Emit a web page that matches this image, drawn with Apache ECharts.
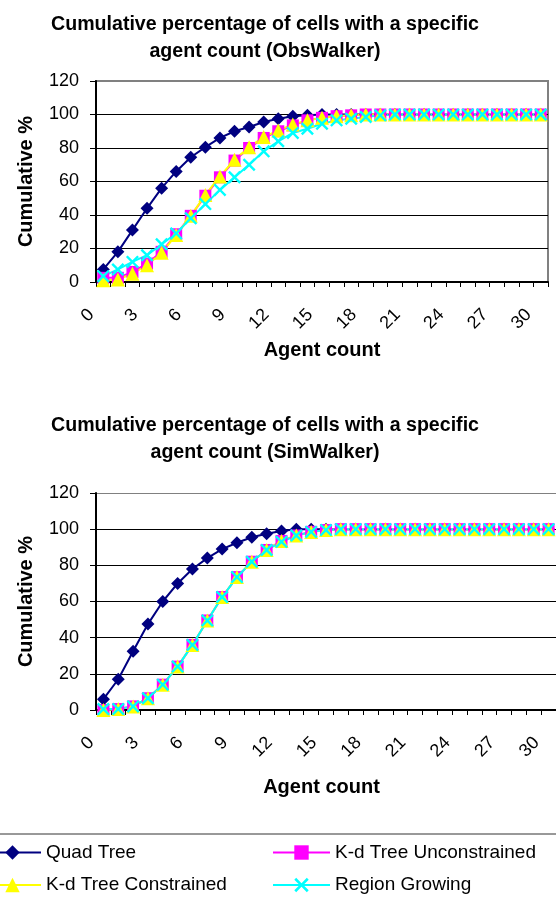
<!DOCTYPE html>
<html><head><meta charset="utf-8">
<script src="https://cdn.jsdelivr.net/npm/echarts@6/dist/echarts.min.js"></script>
<style>html,body{margin:0;padding:0;background:#fff}#c{width:556px;height:899px}</style>
</head><body><div id="c"></div>
<script>
var categories = ['0','1','2','3','4','5','6','7','8','9','10','11','12','13','14','15','16','17','18','19','20','21','22','23','24','25','26','27','28','29','30'];
var seriesNames = ['Quad Tree','K-d Tree Unconstrained','K-d Tree Constrained','Region Growing'];
var yTicks = {min: 0, max: 120, interval: 20};

// ObsWalker (top chart)
var quadObs   = [7.5, 18, 31, 44, 56, 66, 74.5, 80.5, 86, 90, 92.5, 95.5, 97.5, 99, 99.5, 100, 100, 100, 100, 100, 100, 100, 100, 100, 100, 100, 100, 100, 100, 100, 100];
var kdUncObs  = [2.5, 2.5, 6, 11, 18, 28.5, 39.5, 51.5, 62.5, 72.5, 80, 86, 90, 93.5, 96.5, 98, 99, 99.5, 100, 100, 100, 100, 100, 100, 100, 100, 100, 100, 100, 100, 100];
var kdConObs  = [1, 1.5, 5, 10, 17.5, 28, 39.5, 52, 63, 73, 80.5, 86.5, 90.5, 94, 96.5, 98, 99, 99.5, 100, 100, 100, 100, 100, 100, 100, 100, 100, 100, 100, 100, 100];
var regionObs = [3.5, 7.5, 12, 16, 22.5, 29, 38, 46.5, 55, 62.5, 70, 78, 84, 89, 91.5, 94.5, 96.5, 97.5, 98.5, 99.5, 100, 100, 100, 100, 100, 100, 100, 100, 100, 100, 100];

// SimWalker (bottom chart)
var quadSim   = [6, 17, 32.5, 47.5, 60, 70, 78, 84, 89, 92.5, 95.5, 97.5, 99, 100, 100, 100, 100, 100, 100, 100, 100, 100, 100, 100, 100, 100, 100, 100, 100, 100, 100];
var kdUncSim  = [0, 0.5, 2, 6.5, 14, 24, 36, 49.5, 62.5, 73.5, 82, 88.5, 93.5, 96.5, 98.5, 99.5, 100, 100, 100, 100, 100, 100, 100, 100, 100, 100, 100, 100, 100, 100, 100];
var kdConSim  = [0, 0.5, 2, 6.5, 14, 24, 36, 49.5, 62.5, 73.5, 82, 88.5, 93.5, 96.5, 98.5, 99.5, 100, 100, 100, 100, 100, 100, 100, 100, 100, 100, 100, 100, 100, 100, 100];
var regionSim = [0.5, 0.5, 2, 6.5, 14, 24, 36, 49.5, 62.5, 73.5, 82, 88.5, 93, 96.5, 98.5, 99.5, 100, 100, 100, 100, 100, 100, 100, 100, 100, 100, 100, 100, 100, 100, 100];

var FONT = '"Liberation Sans", Arial, sans-serif';
var X_PATH = 'path://M0,1.3 L1.3,0 L5,3.7 L8.7,0 L10,1.3 L6.3,5 L10,8.7 L8.7,10 L5,6.3 L1.3,10 L0,8.7 L3.7,5 Z';
var styles = [
  {color: '#000080', symbol: 'diamond', size: 13},
  {color: '#FF00FF', symbol: 'rect', size: 12},
  {color: '#FFFF00', symbol: 'triangle', size: 14},
  {color: '#00FFFF', symbol: X_PATH, size: 13}
];

function makeX(idx, gap, namePad){
  return {
    type: 'category', gridIndex: idx, data: categories, boundaryGap: true,
    name: 'Agent count', nameLocation: 'middle', nameGap: gap,
    nameTextStyle: {fontFamily: FONT, fontSize: 20, fontWeight: 'bold', color: '#000', padding: namePad},
    axisLine: {lineStyle: {color: '#000', width: 2}},
    axisTick: {show: true, interval: 0, length: 5, lineStyle: {color: '#000', width: 1}},
    axisLabel: {interval: 2, rotate: 45, fontFamily: FONT, fontSize: 18, color: '#000', margin: 18, padding: [0, 17, 0, 0]},
    splitLine: {show: false}
  };
}
function makeY(idx){
  return {
    type: 'value', gridIndex: idx, min: yTicks.min, max: yTicks.max, interval: yTicks.interval,
    name: 'Cumulative %', nameLocation: 'middle', nameGap: 60, nameRotate: 90,
    nameTextStyle: {fontFamily: FONT, fontSize: 20, fontWeight: 'bold', color: '#000'},
    axisLine: {show: true, lineStyle: {color: '#000', width: 2}},
    axisTick: {show: true, length: 6, lineStyle: {color: '#000', width: 1}},
    axisLabel: {fontFamily: FONT, fontSize: 18, color: '#000', margin: 17},
    splitLine: {show: true, lineStyle: {color: ['#000','#000','#000','#000','#000','#000','#808080'], width: 1}}
  };
}
function makeSeries(name, data, si, idx){
  var s = styles[si];
  return {
    name: name, type: 'line', xAxisIndex: idx, yAxisIndex: idx, data: data,
    symbol: s.symbol, symbolSize: s.size, showAllSymbol: true,
    itemStyle: {color: s.color, borderWidth: 0},
    lineStyle: {color: s.color, width: 2},
    animation: false
  };
}

var chart = echarts.init(document.getElementById('c'), null, {renderer: 'canvas'});
var legendText = {fontFamily: FONT, fontSize: 19, color: '#000', lineHeight: 16};
var titleStyle = {fontFamily: FONT, fontSize: 19.6, fontWeight: 'bold', color: '#000', lineHeight: 27};
chart.setOption({
  backgroundColor: '#fff',
  animation: false,
  title: [
    {text: 'Cumulative percentage of cells with a specific\nagent count (ObsWalker)', left: 260, textAlign: 'center', top: 6, textStyle: titleStyle},
    {text: 'Cumulative percentage of cells with a specific\nagent count (SimWalker)', left: 260, textAlign: 'center', top: 407, textStyle: titleStyle}
  ],
  grid: [
    {left: 96, top: 81, width: 452, height: 201, show: true, borderColor: '#808080', borderWidth: 2, backgroundColor: 'transparent'},
    {left: 96, top: 493, width: 465, height: 217, show: false}
  ],
  xAxis: [makeX(0, 58, [0, 0, 0, 0]), makeX(1, 67, [0, 9, 0, 0])],
  yAxis: [makeY(0), makeY(1)],
  legend: [
    {data: [seriesNames[0], seriesNames[2]], orient: 'vertical', left: -17, top: 843, height: 100, padding: 0,
     itemWidth: 57, itemHeight: 18, itemGap: 13.5, textStyle: legendText, selectedMode: false},
    {data: [seriesNames[1], seriesNames[3]], orient: 'vertical', left: 272, top: 843, height: 100, padding: 0,
     itemWidth: 57, itemHeight: 18, itemGap: 13.5, textStyle: legendText, selectedMode: false}
  ],
  graphic: [
    {type: 'line', shape: {x1: 0, y1: 834, x2: 556, y2: 834}, style: {stroke: '#333', lineWidth: 1}}
  ],
  series: [
    makeSeries(seriesNames[0], quadObs, 0, 0),
    makeSeries(seriesNames[1], kdUncObs, 1, 0),
    makeSeries(seriesNames[2], kdConObs, 2, 0),
    makeSeries(seriesNames[3], regionObs, 3, 0),
    makeSeries(seriesNames[0], quadSim, 0, 1),
    makeSeries(seriesNames[1], kdUncSim, 1, 1),
    makeSeries(seriesNames[2], kdConSim, 2, 1),
    makeSeries(seriesNames[3], regionSim, 3, 1)
  ]
});
</script></body></html>
